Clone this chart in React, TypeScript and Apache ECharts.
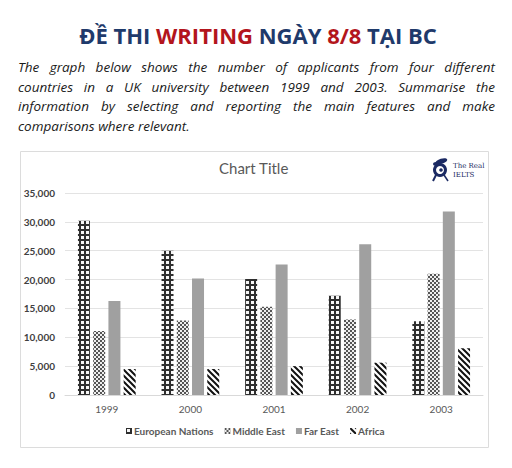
import React, { useEffect, useRef } from 'react';
import * as echarts from 'echarts';

const years = ['1999', '2000', '2001', '2002', '2003'];
const seriesNames = ['European Nations', 'Middle East', 'Far East', 'Africa'];
const european = [30200, 25000, 20100, 17200, 12800];
const middleEast = [11100, 12900, 15300, 13100, 21000];
const farEast = [16300, 20200, 22600, 26100, 31800];
const africa = [4500, 4500, 5000, 5600, 8100];
const yTicks = { min: 0, max: 35000, interval: 5000 };
const chartTitle = 'Chart Title';
const headingParts = [
  { t: 'ĐỀ THI ', s: 'n' },
  { t: 'WRITING', s: 'r' },
  { t: ' NGÀY ', s: 'n' },
  { t: '8/8', s: 'r' },
  { t: ' TẠI BC', s: 'n' },
];
const paragraphLines = [
  'The graph below shows the number of applicants from four different',
  'countries in a UK university between 1999 and 2003. Summarise the',
  'information by selecting and reporting the main features and make',
  'comparisons where relevant.',
];
const logoLines = ['The Real', 'IELTS'];

function makePattern(w: number, h: number, draw: (ctx: CanvasRenderingContext2D) => void) {
  const c = document.createElement('canvas');
  c.width = w;
  c.height = h;
  const ctx = c.getContext('2d')!;
  draw(ctx);
  return { image: c, repeat: 'repeat', imageWidth: w, imageHeight: h } as any;
}

export default function App() {
  const ref = useRef<HTMLDivElement>(null);
  useEffect(() => {
    document.body.style.margin = '0';
    const chart = echarts.init(ref.current!, null, { renderer: 'svg' });

    const euroPat = makePattern(5, 5, (ctx) => {
      ctx.fillStyle = '#2e2e2e';
      ctx.fillRect(0, 0, 5, 5);
      ctx.fillStyle = '#f6f6f6';
      ctx.fillRect(1, 1, 3, 3);
    });
    const mePat = makePattern(4, 4, (ctx) => {
      ctx.fillStyle = '#eeeeee';
      ctx.fillRect(0, 0, 4, 4);
      ctx.fillStyle = '#555555';
      ctx.fillRect(0, 0, 2, 2);
      ctx.fillRect(2, 2, 2, 2);
    });
    const afPat = makePattern(6, 6, (ctx) => {
      ctx.fillStyle = '#ffffff';
      ctx.fillRect(0, 0, 6, 6);
      ctx.strokeStyle = '#111111';
      ctx.lineWidth = 2;
      ctx.lineCap = 'square';
      for (let k = -2; k <= 2; k++) {
        ctx.beginPath();
        ctx.moveTo(k * 6 - 1, -1);
        ctx.lineTo(k * 6 + 7, 7);
        ctx.stroke();
      }
    });

    // paragraph layout (justified)
    const meas = document.createElement('canvas').getContext('2d')!;
    const pFontSize = 13.5;
    const pFamily = '"Open Sans"';
    meas.font = `italic ${pFontSize}px ${pFamily}`;
    const pLeft = 18;
    const pRight = 495;
    const lineYs = [67, 86.5, 106, 125.5];
    const paraEls: any[] = [];
    paragraphLines.forEach((line, i) => {
      const last = i === paragraphLines.length - 1;
      if (last) {
        paraEls.push({
          type: 'text', x: pLeft, y: lineYs[i],
          style: { text: line, fontSize: pFontSize, fontFamily: pFamily, fontStyle: 'italic', fill: '#1a1a1a', textVerticalAlign: 'middle' },
        });
        return;
      }
      const words = line.split(' ');
      const widths = words.map((w) => meas.measureText(w).width);
      const sum = widths.reduce((a, b) => a + b, 0);
      const gap = (pRight - pLeft - sum) / (words.length - 1);
      let x = pLeft;
      words.forEach((w, k) => {
        paraEls.push({
          type: 'text', x, y: lineYs[i],
          style: { text: w, fontSize: pFontSize, fontFamily: pFamily, fontStyle: 'italic', fill: '#1a1a1a', textVerticalAlign: 'middle' },
        });
        x += widths[k] + gap;
      });
    });

    const navy = '#1f3a6b';
    const red = '#b3151c';
    const headingText = headingParts.map((p) => `{${p.s}|${p.t}}`).join('');

    const logoNavy = '#1b2a63';

    const bar = (name: string, data: number[], color: any) => ({
      name,
      type: 'bar',
      data,
      barWidth: 12,
      barGap: '27%',
      itemStyle: { color },
    });

    chart.setOption({
      animation: false,
      backgroundColor: '#ffffff',
      title: {
        text: chartTitle,
        left: 219,
        top: 160,
        padding: 0,
        textStyle: { fontFamily: 'Lato', fontSize: 15, fontWeight: 'normal', color: '#595959' },
      },
      legend: {
        data: seriesNames,
        left: 126,
        top: 426,
        padding: 0,
        itemWidth: 6,
        itemHeight: 6,
        itemGap: 11,
        icon: 'rect',
        textStyle: { fontFamily: 'Lato', fontSize: 10, fontWeight: 'bold', color: '#595959', padding: [0, 0, 0, -3] },
      },
      grid: { left: 65, top: 193, width: 418, height: 202, containLabel: false },
      xAxis: {
        type: 'category',
        data: years,
        axisTick: { show: false },
        axisLine: { lineStyle: { color: '#d9d9d9' } },
        axisLabel: { color: '#595959', fontFamily: 'Lato', fontSize: 10, margin: 9 },
      },
      yAxis: {
        type: 'value',
        min: yTicks.min,
        max: yTicks.max,
        interval: yTicks.interval,
        axisLine: { show: false },
        axisTick: { show: false },
        splitLine: { lineStyle: { color: '#e3e3e3' } },
        axisLabel: {
          color: '#404040', fontFamily: 'Lato', fontSize: 10, fontWeight: 'bold', margin: 10,
          formatter: (v: number) => v.toLocaleString('en-US'),
        },
      },
      series: [
        bar(seriesNames[0], european, euroPat),
        bar(seriesNames[1], middleEast, mePat),
        bar(seriesNames[2], farEast, '#a0a0a0'),
        bar(seriesNames[3], africa, afPat),
      ],
      graphic: [
        {
          type: 'rect', z: -10, silent: true,
          shape: { x: 20.5, y: 151.5, width: 468, height: 296 },
          style: { fill: 'none', stroke: '#dcdcdc', lineWidth: 1 },
        },
        {
          type: 'text', x: 258, y: 35,
          style: {
            text: headingText,
            textAlign: 'center', textVerticalAlign: 'middle',
            rich: {
              n: { fontFamily: '"Open Sans"', fontWeight: 700, fontSize: 22, fill: navy },
              r: { fontFamily: '"Open Sans"', fontWeight: 700, fontSize: 22, fill: red },
            },
          },
        },
        ...paraEls,
        // logo
        {
          type: 'group', x: 440, y: 170,
          children: [
            { type: 'ring', shape: { cx: 0, cy: 0, r: 7, r0: 4 }, style: { fill: logoNavy } },
            { type: 'ellipse', shape: { cx: 4, cy: -8, rx: 6, ry: 2.5 }, rotation: 0.3, style: { fill: logoNavy } },
            { type: 'ellipse', shape: { cx: -4, cy: -6, rx: 3, ry: 2 }, style: { fill: logoNavy } },
            { type: 'polyline', shape: { points: [[-4, 5], [-7, 11]] }, style: { stroke: logoNavy, lineWidth: 2 } },
            { type: 'polyline', shape: { points: [[4, 5], [8, 11]] }, style: { stroke: logoNavy, lineWidth: 1.5 } },
            { type: 'circle', shape: { cx: 1, cy: 0, r: 1.8 }, style: { fill: logoNavy } },
          ],
        },
        {
          type: 'text', x: 453, y: 166,
          style: { text: logoLines[0], fontFamily: 'DejaVu Serif', fontSize: 7, fill: logoNavy, textVerticalAlign: 'middle' },
        },
        {
          type: 'text', x: 453, y: 175,
          style: { text: logoLines[1], fontFamily: 'DejaVu Serif', fontSize: 7, fill: logoNavy, textVerticalAlign: 'middle' },
        },
      ],
    });
    return () => chart.dispose();
  }, []);
  return <div ref={ref} style={{ width: 512, height: 468 }} />;
}
